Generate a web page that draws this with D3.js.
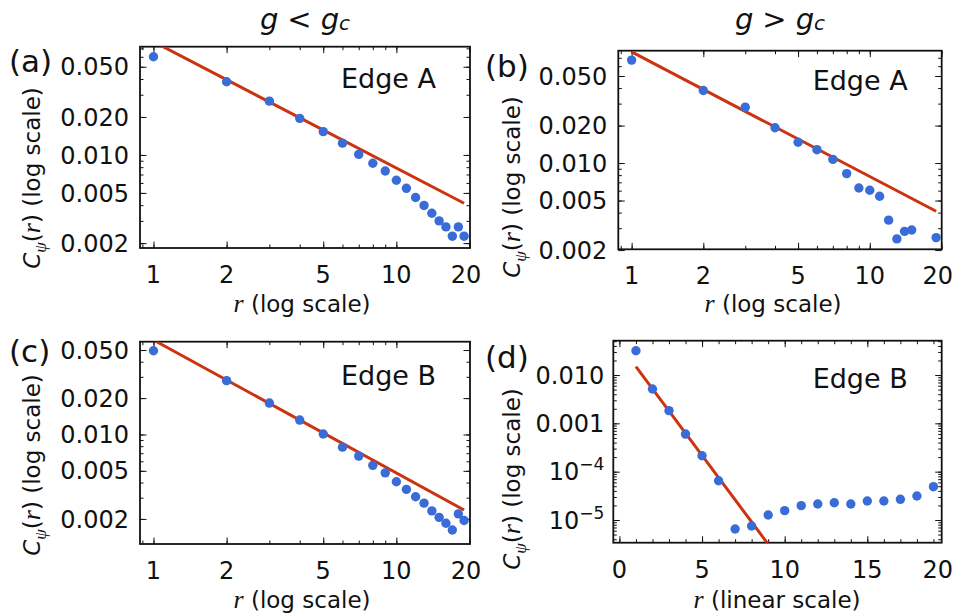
<!DOCTYPE html>
<html lang="en">
<head>
<meta charset="UTF-8">
<title>Edge correlations</title>
<style>
  body { margin: 0; background: #fff; }
  text { font-family: "DejaVu Sans", sans-serif; fill: #111; }
  .tick line { stroke: #111; stroke-width: 1; }
</style>
</head>
<body>
<div id="chart"></div>
<script src="https://cdn.jsdelivr.net/npm/d3@7"></script>
<script>
// ---- data ----
const rA = [1, 2, 3, 4, 5, 6, 7, 8, 9, 10, 11, 12, 13, 14, 15, 16, 17, 18, 19];
const cA = [0.060, 0.038, 0.0267, 0.0195, 0.0153, 0.0124, 0.0101, 0.0086, 0.00746, 0.0063,
            0.00544, 0.0046, 0.00398, 0.00345, 0.0030, 0.00269, 0.00227, 0.00269, 0.00227];

const rB = [1, 2, 3, 4, 5, 6, 7, 8, 9, 10, 11, 12, 13, 14, 15, 19];
const cB = [0.0671, 0.0382, 0.0281, 0.0192, 0.0147, 0.0128, 0.0107, 0.00823, 0.0063, 0.00605,
            0.00541, 0.00348, 0.00246, 0.00283, 0.0029, 0.00252];

const rC = [1, 2, 3, 4, 5, 6, 7, 8, 9, 10, 11, 12, 13, 14, 15, 16, 17, 18, 19];
const cC = [0.0493, 0.0279, 0.0182, 0.01316, 0.0101, 0.00785, 0.00662, 0.00555, 0.00481, 0.00406,
            0.00351, 0.00305, 0.0027, 0.00233, 0.00206, 0.00184, 0.00162, 0.0022, 0.00194];

const rD = [1, 2, 3, 4, 5, 6, 7, 8, 9, 10, 11, 12, 13, 14, 15, 16, 17, 18, 19];
const cD = [0.0318, 0.00513, 0.00183, 0.0006, 0.000214, 6.5e-5, 6.5e-6, 7.5e-6, 1.27e-5, 1.56e-5,
            1.98e-5, 2.14e-5, 2.28e-5, 2.14e-5, 2.47e-5, 2.47e-5, 2.68e-5, 3.14e-5, 4.89e-5];

// fitted straight lines (end points)
const fitRA = [1, 19], fitCA = [0.079, 0.00414];
const fitRB = [1, 19], fitCB = [0.078, 0.0041];
const fitRC = [1, 19], fitCC = [0.0605, 0.00237];
const fitRD = [1, 9],  fitCD = [0.0149, 3.16e-6];

// tick labels
const logYTicks = [0.002, 0.005, 0.01, 0.02, 0.05];
const logYLabels = ["0.002", "0.005", "0.010", "0.020", "0.050"];
const logXTicks = [1, 2, 5, 10, 20];
const logXLabels = ["1", "2", "5", "10", "20"];
const dYTicks = [1e-5, 1e-4, 0.001, 0.01];
const dYLabels = [["10", "\u22125"], ["10", "\u22124"], ["0.001"], ["0.010"]];
const linXTicks = [0, 5, 10, 15, 20];
const linXLabels = ["0", "5", "10", "15", "20"];

const W = 959, H = 616;
const blue = "#3a6cd8", red = "#cc3310";

const panels = [
  { tag: "(a)", tagPos: [9, 72], edge: "Edge A", edgeDy: 41, title: "<", xlabel: "log scale",
    box: [140, 46.7, 470, 248], xLog: true, xDom: [0.88, 20.1], yDom: [0.00183, 0.0721],
    r: rA, c: cA, fr: fitRA, fc: fitCA, ylab: [32, 178], xlab: [302, 312] },
  { tag: "(b)", tagPos: [485, 77], edge: "Edge A", edgeDy: 39, title: ">", xlabel: "log scale",
    box: [618.3, 50.7, 941.7, 249.3], xLog: true, xDom: [0.879, 20.05], yDom: [0.00203, 0.0798],
    r: rB, c: cB, fr: fitRB, fc: fitCB, ylab: [512, 187], xlab: [773, 312] },
  { tag: "(c)", tagPos: [9, 362], edge: "Edge B", edgeDy: 43, title: null, xlabel: "log scale",
    box: [140, 341.7, 470, 544], xLog: true, xDom: [0.88, 20.1], yDom: [0.00124, 0.0586],
    r: rC, c: cC, fr: fitRC, fc: fitCC, ylab: [32, 465], xlab: [302, 608] },
  { tag: "(d)", tagPos: [485, 368], edge: "Edge B", edgeDy: 47, title: null, xlabel: "linear scale",
    box: [613.3, 340.7, 941.7, 542.7], xLog: false, xDom: [-0.37, 19.5], yDom: [3.39e-6, 0.0513],
    r: rD, c: cD, fr: fitRD, fc: fitCD, ylab: [512, 479], xlab: [777, 608] }
];

const svg = d3.select("#chart").append("svg").attr("width", W).attr("height", H);
svg.append("rect").attr("width", W).attr("height", H).attr("fill", "#fff");

function logMinor(dom) {
  const out = [];
  const lo = Math.floor(Math.log10(dom[0])), hi = Math.ceil(Math.log10(dom[1]));
  for (let e = lo; e <= hi; e++) {
    for (let m = 1; m <= 9; m++) {
      const v = +(m * Math.pow(10, e)).toPrecision(6);
      if (v >= dom[0] && v <= dom[1]) out.push(v);
    }
  }
  return out;
}

panels.forEach((p, i) => {
  const [x0, y0, x1, y1] = p.box;
  const x = (p.xLog ? d3.scaleLog() : d3.scaleLinear()).domain(p.xDom).range([x0, x1]);
  const y = d3.scaleLog().domain(p.yDom).range([y1, y0]);
  const g = svg.append("g");

  g.append("clipPath").attr("id", "clip" + i)
    .append("rect").attr("x", x0).attr("y", y0).attr("width", x1 - x0).attr("height", y1 - y0);

  const inX = t => t >= p.xDom[0] && t <= p.xDom[1];
  const xTickVals = p.xLog ? logXTicks : linXTicks;
  const xTickLabs = p.xLog ? logXLabels : linXLabels;
  const yTickVals = p.xLog ? logYTicks : dYTicks;
  const xMinor = p.xLog ? logMinor(p.xDom) : d3.range(Math.ceil(p.xDom[0]), Math.floor(p.xDom[1]) + 1);
  const yMinor = logMinor(p.yDom);
  const xMajor = xTickVals.filter(inX);

  function ticks(axisFn, scale, vals, size, tr) {
    g.append("g").attr("transform", tr)
      .call(axisFn(scale).tickValues(vals).tickSize(size).tickFormat(""))
      .call(a => a.select(".domain").remove());
  }
  ticks(d3.axisBottom, x, xMinor, -3.5, `translate(0,${y1})`);
  ticks(d3.axisBottom, x, xMajor, -6.5, `translate(0,${y1})`);
  ticks(d3.axisTop, x, xMinor, -3.5, `translate(0,${y0})`);
  ticks(d3.axisTop, x, xMajor, -6.5, `translate(0,${y0})`);
  ticks(d3.axisLeft, y, yMinor, -3.5, `translate(${x0},0)`);
  ticks(d3.axisLeft, y, yTickVals, -6.5, `translate(${x0},0)`);
  ticks(d3.axisRight, y, yMinor, -3.5, `translate(${x1},0)`);
  ticks(d3.axisRight, y, yTickVals, -6.5, `translate(${x1},0)`);

  // frame
  g.append("rect").attr("x", x0).attr("y", y0).attr("width", x1 - x0).attr("height", y1 - y0)
    .attr("fill", "none").attr("stroke", "#111").attr("stroke-width", 1.8);

  // fit line
  const fit = p.fr.map((r, k) => [r, p.fc[k]]);
  g.append("path").datum(fit)
    .attr("clip-path", `url(#clip${i})`)
    .attr("d", d3.line().x(d => x(d[0])).y(d => y(d[1])))
    .attr("fill", "none").attr("stroke", red).attr("stroke-width", 3);

  // points
  g.append("g").selectAll("circle")
    .data(p.r.map((r, k) => [r, p.c[k]]))
    .join("circle")
    .attr("cx", d => x(d[0])).attr("cy", d => y(d[1])).attr("r", 4.7)
    .attr("fill", blue);

  // x tick labels
  g.append("g").selectAll("text")
    .data(xTickVals.map((t, k) => [t, xTickLabs[k]]))
    .join("text")
    .attr("x", d => Math.min(x(d[0]), x1 - 4))
    .attr("y", y1 + 35)
    .attr("text-anchor", "middle")
    .attr("font-size", 24)
    .text(d => d[1]);

  // y tick labels
  if (p.xLog) {
    g.append("g").selectAll("text")
      .data(logYTicks.map((t, k) => [t, logYLabels[k]]))
      .join("text")
      .attr("x", x0 - 11).attr("y", d => y(d[0])).attr("dy", "0.36em")
      .attr("text-anchor", "end").attr("font-size", 24)
      .text(d => d[1]);
  } else {
    const tl = g.append("g").selectAll("text")
      .data(dYTicks.map((t, k) => [t, dYLabels[k]]))
      .join("text")
      .attr("x", x0 - 9).attr("y", d => y(d[0])).attr("dy", "0.36em")
      .attr("text-anchor", "end").attr("font-size", 24);
    tl.each(function (d) {
      const t = d3.select(this);
      t.append("tspan").text(d[1][0]);
      if (d[1][1]) t.append("tspan").attr("font-size", 17).attr("dy", -10).text(d[1][1]);
    });
  }

  // edge label
  g.append("text").attr("x", x1 - 34).attr("y", y0 + p.edgeDy)
    .attr("text-anchor", "end").attr("font-size", 27).text(p.edge);

  // panel tag
  g.append("text").attr("x", p.tagPos[0]).attr("y", p.tagPos[1])
    .attr("font-size", 31).text(p.tag);

  // x axis label
  const xl = g.append("text").attr("x", p.xlab[0]).attr("y", p.xlab[1])
    .attr("text-anchor", "middle").attr("font-size", 23);
  xl.append("tspan").attr("font-family", "Liberation Serif").attr("font-style", "italic").attr("font-size", 26).text("r");
  xl.append("tspan").text(" (" + p.xlabel + ")");

  // y axis label
  const yl = g.append("text")
    .attr("transform", `translate(${p.ylab[0]},${p.ylab[1]}) rotate(-90)`)
    .attr("text-anchor", "middle").attr("dy", "0.35em").attr("font-size", 23);
  yl.append("tspan").attr("font-style", "italic").text("C");
  yl.append("tspan").attr("font-family", "Liberation Serif").attr("font-style", "italic")
    .attr("font-size", 17).attr("dy", 6).text("\u03c8");
  yl.append("tspan").attr("dy", -6).text("(");
  yl.append("tspan").attr("font-family", "Liberation Serif").attr("font-style", "italic").attr("font-size", 26).text("r");
  yl.append("tspan").text(") (log scale)");

  // column title
  if (p.title) {
    const tt = g.append("text").attr("x", (x0 + x1) / 2).attr("y", 29)
      .attr("text-anchor", "middle").attr("font-size", 29).attr("font-style", "italic");
    tt.append("tspan").text("g");
    tt.append("tspan").attr("dx", 9).attr("font-style", "normal").text(p.title);
    tt.append("tspan").attr("dx", 9).text("g");
    tt.append("tspan").attr("font-size", 20).attr("dy", 1).text("c");
  }
});
</script>
</body>
</html>
